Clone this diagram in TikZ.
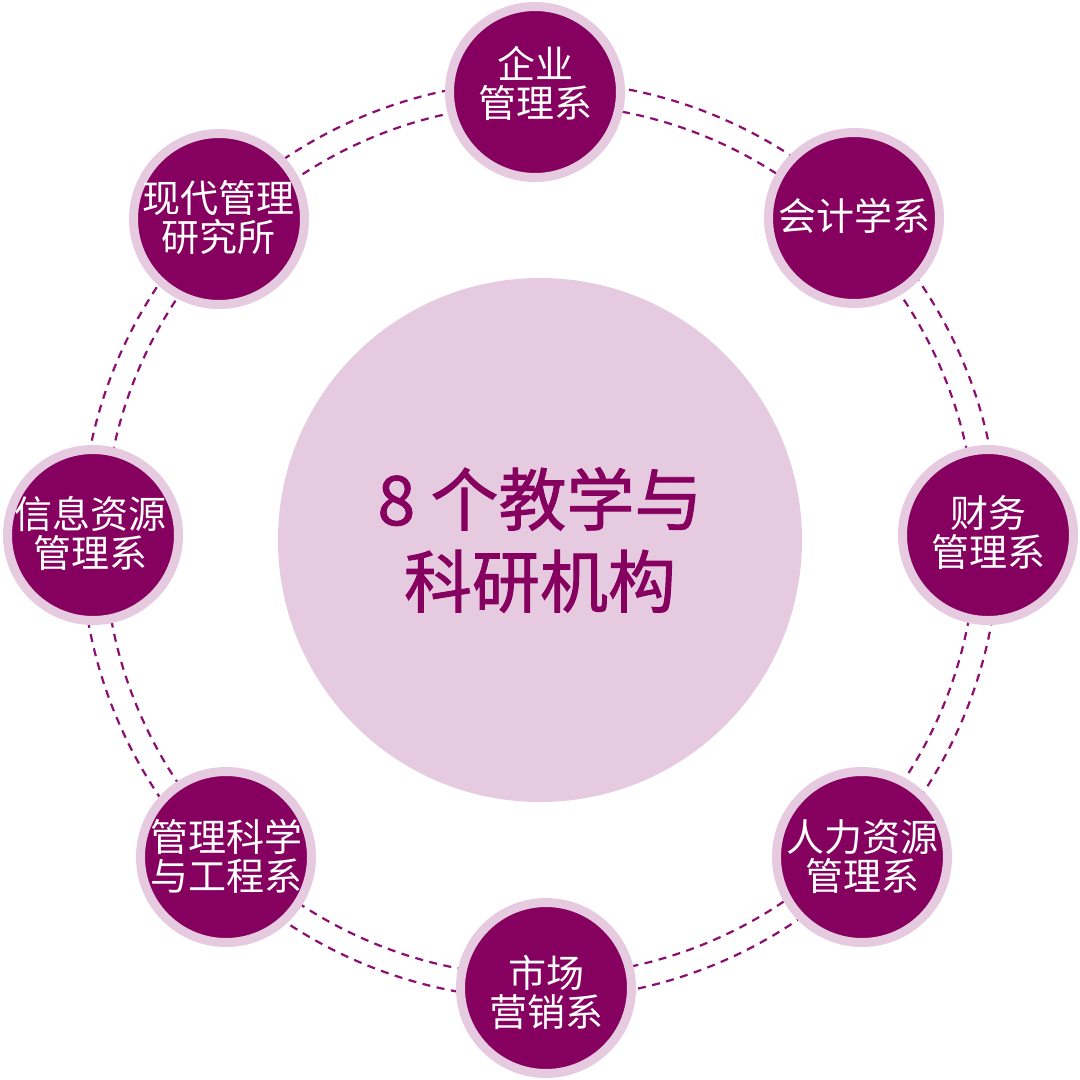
\documentclass[tikz,border=0pt]{standalone}
\usepackage{fontspec}
\newfontfamily\cjk{Noto Sans CJK SC}
\newfontfamily\cjkb[FakeBold=1.3]{Noto Sans CJK SC}
\definecolor{deep}{HTML}{86005F}
\definecolor{pale}{HTML}{E6CBE0}
\definecolor{dashc}{HTML}{8B0E70}
\begin{document}
\begin{tikzpicture}[x=1pt,y=-1pt,
  sat/.style={circle, fill=deep, draw=pale, line width=9pt, minimum size=171pt, inner sep=0pt},
  sattext/.style={text=white, align=center, font=\cjk\fontsize{38}{39}\selectfont, inner sep=0pt},
  dring/.style={draw=dashc, line width=2.2pt, dash pattern=on 8pt off 6.5pt}]
\useasboundingbox[fill=white] (0,0) rectangle (1080,1080);
\node[circle, fill=pale, minimum size=524pt, inner sep=0pt, text=deep, align=center,
      font=\cjkb\fontsize{68}{82}\selectfont] (hub) at (540,540) {8 个教学与\\科研机构};
\draw[dring] (hub.center) circle[radius=436pt];
\draw[dring] (hub.center) circle[radius=459pt];
\node[sat] (s1) at (535,92) {};
\node[sat] (s2) at (854,218) {};
\node[sat] (s3) at (988,535) {};
\node[sat] (s4) at (862,857) {};
\node[sat] (s5) at (546,988) {};
\node[sat] (s6) at (226,857) {};
\node[sat] (s7) at (93,535) {};
\node[sat] (s8) at (219,219) {};
\node[sattext] (t1) at (535,83) {企业\\管理系};
\node[sattext] (t2) at (854,216) {会计学系};
\node[sattext] (t3) at (988,533) {财务\\管理系};
\node[sattext] (t4) at (862,857) {人力资源\\管理系};
\node[sattext] (t5) at (546,992) {市场\\营销系};
\node[sattext] (t6) at (226,856) {管理科学\\与工程系};
\node[sattext] (t7) at (91,533) {信息资源\\管理系};
\node[sattext] (t8) at (218,218) {现代管理\\研究所};
\end{tikzpicture}
\end{document}
